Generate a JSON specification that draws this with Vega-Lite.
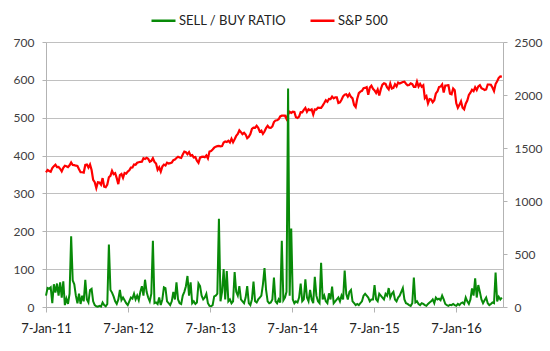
{
"$schema": "https://vega.github.io/schema/vega-lite/v6.json",
"width": 457, "height": 265,
"autosize": {"type": "none"},
"padding": {"left": 46, "top": 42, "right": 47, "bottom": 44},
"background": "white",
"config": {
  "view": {"stroke": null},
  "font": "Lato",
  "axis": {"labelFont": "Lato", "labelFontSize": 12, "labelColor": "#404040", "domainColor": "#b3b3b3", "tickColor": "#b3b3b3", "gridColor": "#c0c0c0", "title": null},
  "legend": {"orient": "none", "legendX": 104, "legendY": -35, "direction": "horizontal", "symbolType": "stroke", "symbolSize": 576, "symbolStrokeWidth": 2.5, "labelFont": "Lato", "labelFontSize": 13, "labelColor": "#222222", "columnPadding": 18, "labelOffset": 2}
},
"data": {"values": [
{"d":"2011-01-07","r":30,"s":1271},{"d":"2011-01-14","r":50,"s":1293},{"d":"2011-01-21","r":48,"s":1283},{"d":"2011-01-28","r":52,"s":1276},
{"d":"2011-02-04","r":10,"s":1310},{"d":"2011-02-11","r":60,"s":1329},{"d":"2011-02-18","r":38,"s":1343},{"d":"2011-02-25","r":62,"s":1320},
{"d":"2011-03-04","r":30,"s":1321},{"d":"2011-03-11","r":65,"s":1304},{"d":"2011-03-18","r":25,"s":1279},{"d":"2011-03-25","r":68,"s":1313},
{"d":"2011-04-01","r":5,"s":1332},{"d":"2011-04-08","r":22,"s":1328},{"d":"2011-04-15","r":8,"s":1319},{"d":"2011-04-22","r":35,"s":1337},{"d":"2011-04-29","r":187,"s":1364},
{"d":"2011-05-06","r":70,"s":1340},{"d":"2011-05-13","r":60,"s":1338},{"d":"2011-05-20","r":30,"s":1333},{"d":"2011-05-27","r":10,"s":1331},
{"d":"2011-06-03","r":35,"s":1300},{"d":"2011-06-10","r":8,"s":1271},{"d":"2011-06-17","r":30,"s":1271},{"d":"2011-06-24","r":15,"s":1268},
{"d":"2011-07-01","r":72,"s":1340},{"d":"2011-07-08","r":20,"s":1344},{"d":"2011-07-15","r":12,"s":1316},{"d":"2011-07-22","r":45,"s":1345},{"d":"2011-07-29","r":48,"s":1292},
{"d":"2011-08-05","r":15,"s":1199},{"d":"2011-08-12","r":5,"s":1178},{"d":"2011-08-19","r":2,"s":1123},{"d":"2011-08-26","r":1,"s":1177},
{"d":"2011-09-02","r":3,"s":1174},{"d":"2011-09-09","r":1,"s":1154},{"d":"2011-09-16","r":12,"s":1216},{"d":"2011-09-23","r":5,"s":1136},{"d":"2011-09-30","r":2,"s":1131},
{"d":"2011-10-07","r":8,"s":1155},{"d":"2011-10-14","r":165,"s":1224},{"d":"2011-10-21","r":45,"s":1238},{"d":"2011-10-28","r":38,"s":1285},
{"d":"2011-11-04","r":28,"s":1253},{"d":"2011-11-11","r":15,"s":1263},{"d":"2011-11-18","r":8,"s":1216},{"d":"2011-11-25","r":20,"s":1159},
{"d":"2011-12-02","r":45,"s":1244},{"d":"2011-12-09","r":18,"s":1255},{"d":"2011-12-16","r":25,"s":1219},{"d":"2011-12-23","r":18,"s":1265},{"d":"2011-12-30","r":10,"s":1258},
{"d":"2012-01-06","r":5,"s":1278},{"d":"2012-01-13","r":15,"s":1289},{"d":"2012-01-20","r":25,"s":1315},{"d":"2012-01-27","r":22,"s":1316},
{"d":"2012-02-03","r":35,"s":1345},{"d":"2012-02-10","r":20,"s":1342},{"d":"2012-02-17","r":30,"s":1361},{"d":"2012-02-24","r":18,"s":1366},
{"d":"2012-03-02","r":40,"s":1370},{"d":"2012-03-09","r":55,"s":1371},{"d":"2012-03-16","r":30,"s":1404},{"d":"2012-03-23","r":72,"s":1397},{"d":"2012-03-30","r":40,"s":1408},
{"d":"2012-04-06","r":25,"s":1398},{"d":"2012-04-13","r":15,"s":1370},{"d":"2012-04-20","r":35,"s":1378},{"d":"2012-04-27","r":175,"s":1403},
{"d":"2012-05-04","r":10,"s":1369},{"d":"2012-05-11","r":12,"s":1353},{"d":"2012-05-18","r":8,"s":1295},{"d":"2012-05-25","r":25,"s":1318},
{"d":"2012-06-01","r":5,"s":1278},{"d":"2012-06-08","r":20,"s":1325},{"d":"2012-06-15","r":52,"s":1343},{"d":"2012-06-22","r":50,"s":1335},{"d":"2012-06-29","r":15,"s":1362},
{"d":"2012-07-06","r":10,"s":1354},{"d":"2012-07-13","r":5,"s":1357},{"d":"2012-07-20","r":15,"s":1363},{"d":"2012-07-27","r":40,"s":1386},
{"d":"2012-08-03","r":20,"s":1391},{"d":"2012-08-10","r":65,"s":1406},{"d":"2012-08-17","r":20,"s":1418},{"d":"2012-08-24","r":10,"s":1411},{"d":"2012-08-31","r":8,"s":1406},
{"d":"2012-09-07","r":30,"s":1438},{"d":"2012-09-14","r":40,"s":1466},{"d":"2012-09-21","r":55,"s":1460},{"d":"2012-09-28","r":82,"s":1441},
{"d":"2012-10-05","r":30,"s":1461},{"d":"2012-10-12","r":65,"s":1428},{"d":"2012-10-19","r":10,"s":1433},{"d":"2012-10-26","r":15,"s":1411},
{"d":"2012-11-02","r":8,"s":1414},{"d":"2012-11-09","r":12,"s":1380},{"d":"2012-11-16","r":62,"s":1360},{"d":"2012-11-23","r":55,"s":1409},{"d":"2012-11-30","r":30,"s":1416},
{"d":"2012-12-07","r":20,"s":1418},{"d":"2012-12-14","r":25,"s":1413},{"d":"2012-12-21","r":35,"s":1430},{"d":"2012-12-28","r":10,"s":1402},
{"d":"2013-01-04","r":3,"s":1466},{"d":"2013-01-11","r":2,"s":1472},{"d":"2013-01-18","r":5,"s":1486},{"d":"2013-01-25","r":28,"s":1503},
{"d":"2013-02-01","r":30,"s":1513},{"d":"2013-02-08","r":35,"s":1518},{"d":"2013-02-15","r":233,"s":1520},{"d":"2013-02-22","r":15,"s":1516},
{"d":"2013-03-01","r":40,"s":1518},{"d":"2013-03-08","r":100,"s":1552},{"d":"2013-03-15","r":20,"s":1561},{"d":"2013-03-22","r":95,"s":1556},{"d":"2013-03-29","r":15,"s":1569},
{"d":"2013-04-05","r":20,"s":1553},{"d":"2013-04-12","r":10,"s":1588},{"d":"2013-04-19","r":15,"s":1555},{"d":"2013-04-26","r":92,"s":1582},
{"d":"2013-05-03","r":40,"s":1614},{"d":"2013-05-10","r":30,"s":1633},{"d":"2013-05-17","r":55,"s":1667},{"d":"2013-05-24","r":20,"s":1650},{"d":"2013-05-31","r":15,"s":1631},
{"d":"2013-06-07","r":10,"s":1643},{"d":"2013-06-14","r":25,"s":1626},{"d":"2013-06-21","r":55,"s":1593},{"d":"2013-06-28","r":10,"s":1606},
{"d":"2013-07-05","r":5,"s":1632},{"d":"2013-07-12","r":20,"s":1680},{"d":"2013-07-19","r":67,"s":1692},{"d":"2013-07-26","r":15,"s":1691},
{"d":"2013-08-02","r":12,"s":1710},{"d":"2013-08-09","r":20,"s":1691},{"d":"2013-08-16","r":25,"s":1655},{"d":"2013-08-23","r":30,"s":1664},{"d":"2013-08-30","r":60,"s":1633},
{"d":"2013-09-06","r":103,"s":1655},{"d":"2013-09-13","r":45,"s":1688},{"d":"2013-09-20","r":15,"s":1710},{"d":"2013-09-27","r":10,"s":1692},
{"d":"2013-10-04","r":12,"s":1690},{"d":"2013-10-11","r":20,"s":1703},{"d":"2013-10-18","r":78,"s":1745},{"d":"2013-10-25","r":15,"s":1759},
{"d":"2013-11-01","r":10,"s":1762},{"d":"2013-11-08","r":20,"s":1771},{"d":"2013-11-15","r":12,"s":1798},{"d":"2013-11-22","r":175,"s":1805},{"d":"2013-11-29","r":18,"s":1806},
{"d":"2013-12-06","r":25,"s":1805},{"d":"2013-12-13","r":40,"s":1775},{"d":"2013-12-20","r":577,"s":1818},{"d":"2013-12-27","r":30,"s":1841},
{"d":"2014-01-03","r":207,"s":1831},{"d":"2014-01-10","r":20,"s":1842},{"d":"2014-01-17","r":10,"s":1839},{"d":"2014-01-24","r":15,"s":1790},{"d":"2014-01-31","r":12,"s":1783},
{"d":"2014-02-07","r":25,"s":1797},{"d":"2014-02-14","r":62,"s":1838},{"d":"2014-02-21","r":15,"s":1836},{"d":"2014-02-28","r":20,"s":1859},
{"d":"2014-03-07","r":73,"s":1878},{"d":"2014-03-14","r":25,"s":1841},{"d":"2014-03-21","r":15,"s":1866},{"d":"2014-03-28","r":45,"s":1857},
{"d":"2014-04-04","r":20,"s":1865},{"d":"2014-04-11","r":10,"s":1816},{"d":"2014-04-18","r":80,"s":1864},{"d":"2014-04-25","r":30,"s":1863},
{"d":"2014-05-02","r":15,"s":1881},{"d":"2014-05-09","r":10,"s":1878},{"d":"2014-05-16","r":117,"s":1878},{"d":"2014-05-23","r":20,"s":1900},{"d":"2014-05-30","r":30,"s":1924},
{"d":"2014-06-06","r":15,"s":1950},{"d":"2014-06-13","r":10,"s":1937},{"d":"2014-06-20","r":36,"s":1963},{"d":"2014-06-27","r":20,"s":1961},
{"d":"2014-07-04","r":54,"s":1985},{"d":"2014-07-11","r":10,"s":1968},{"d":"2014-07-18","r":15,"s":1978},{"d":"2014-07-25","r":20,"s":1978},
{"d":"2014-08-01","r":25,"s":1925},{"d":"2014-08-08","r":15,"s":1931},{"d":"2014-08-15","r":30,"s":1955},{"d":"2014-08-22","r":20,"s":1988},{"d":"2014-08-29","r":96,"s":2003},
{"d":"2014-09-05","r":35,"s":2007},{"d":"2014-09-12","r":20,"s":1985},{"d":"2014-09-19","r":40,"s":2010},{"d":"2014-09-26","r":45,"s":1982},
{"d":"2014-10-03","r":15,"s":1968},{"d":"2014-10-10","r":10,"s":1906},{"d":"2014-10-17","r":5,"s":1886},{"d":"2014-10-24","r":8,"s":1964},{"d":"2014-10-31","r":5,"s":2018},
{"d":"2014-11-07","r":10,"s":2032},{"d":"2014-11-14","r":15,"s":2039},{"d":"2014-11-21","r":30,"s":2064},{"d":"2014-11-28","r":35,"s":2067},
{"d":"2014-12-05","r":30,"s":2075},{"d":"2014-12-12","r":25,"s":2002},{"d":"2014-12-19","r":15,"s":2070},{"d":"2014-12-26","r":20,"s":2088},
{"d":"2015-01-02","r":20,"s":2058},{"d":"2015-01-09","r":58,"s":2044},{"d":"2015-01-16","r":20,"s":2019},{"d":"2015-01-23","r":15,"s":2051},{"d":"2015-01-30","r":35,"s":1995},
{"d":"2015-02-06","r":30,"s":2055},{"d":"2015-02-13","r":25,"s":2097},{"d":"2015-02-20","r":20,"s":2110},{"d":"2015-02-27","r":35,"s":2104},
{"d":"2015-03-06","r":30,"s":2071},{"d":"2015-03-13","r":50,"s":2053},{"d":"2015-03-20","r":25,"s":2108},{"d":"2015-03-27","r":35,"s":2061},
{"d":"2015-04-03","r":40,"s":2067},{"d":"2015-04-10","r":20,"s":2102},{"d":"2015-04-17","r":15,"s":2081},{"d":"2015-04-24","r":25,"s":2117},
{"d":"2015-05-01","r":30,"s":2108},{"d":"2015-05-08","r":40,"s":2116},{"d":"2015-05-15","r":50,"s":2123},{"d":"2015-05-22","r":20,"s":2126},{"d":"2015-05-29","r":10,"s":2107},
{"d":"2015-06-05","r":8,"s":2092},{"d":"2015-06-12","r":5,"s":2094},{"d":"2015-06-19","r":3,"s":2110},{"d":"2015-06-26","r":10,"s":2102},
{"d":"2015-07-03","r":78,"s":2077},{"d":"2015-07-10","r":12,"s":2077},{"d":"2015-07-17","r":15,"s":2127},{"d":"2015-07-24","r":8,"s":2080},{"d":"2015-07-31","r":5,"s":2104},
{"d":"2015-08-07","r":10,"s":2078},{"d":"2015-08-14","r":8,"s":2092},{"d":"2015-08-21","r":5,"s":1971},{"d":"2015-08-28","r":3,"s":1989},
{"d":"2015-09-04","r":8,"s":1921},{"d":"2015-09-11","r":12,"s":1961},{"d":"2015-09-18","r":15,"s":1958},{"d":"2015-09-25","r":20,"s":1931},
{"d":"2015-10-02","r":10,"s":1951},{"d":"2015-10-09","r":25,"s":2015},{"d":"2015-10-16","r":20,"s":2033},{"d":"2015-10-23","r":22,"s":2075},{"d":"2015-10-30","r":18,"s":2079},
{"d":"2015-11-06","r":30,"s":2099},{"d":"2015-11-13","r":20,"s":2023},{"d":"2015-11-20","r":8,"s":2089},{"d":"2015-11-27","r":5,"s":2090},
{"d":"2015-12-04","r":3,"s":2092},{"d":"2015-12-11","r":6,"s":2012},{"d":"2015-12-18","r":5,"s":2006},{"d":"2015-12-25","r":8,"s":2061},
{"d":"2016-01-01","r":5,"s":2044},{"d":"2016-01-08","r":3,"s":1922},{"d":"2016-01-15","r":8,"s":1880},{"d":"2016-01-22","r":5,"s":1907},{"d":"2016-01-29","r":10,"s":1940},
{"d":"2016-02-05","r":12,"s":1880},{"d":"2016-02-12","r":8,"s":1865},{"d":"2016-02-19","r":25,"s":1918},{"d":"2016-02-26","r":15,"s":1948},
{"d":"2016-03-04","r":8,"s":2000},{"d":"2016-03-11","r":20,"s":2022},{"d":"2016-03-18","r":49,"s":2050},{"d":"2016-03-25","r":30,"s":2036},
{"d":"2016-04-01","r":76,"s":2073},{"d":"2016-04-08","r":25,"s":2047},{"d":"2016-04-15","r":58,"s":2081},{"d":"2016-04-22","r":40,"s":2092},{"d":"2016-04-29","r":20,"s":2065},
{"d":"2016-05-06","r":10,"s":2057},{"d":"2016-05-13","r":18,"s":2047},{"d":"2016-05-20","r":25,"s":2052},{"d":"2016-05-27","r":10,"s":2099},
{"d":"2016-06-03","r":5,"s":2099},{"d":"2016-06-10","r":8,"s":2096},{"d":"2016-06-17","r":12,"s":2071},{"d":"2016-06-24","r":10,"s":2037},
{"d":"2016-07-01","r":91,"s":2103},{"d":"2016-07-08","r":15,"s":2130},{"d":"2016-07-15","r":27,"s":2162},{"d":"2016-07-22","r":20,"s":2175},{"d":"2016-07-29","r":25,"s":2174}
]},
"encoding": {
  "x": {"field": "d", "type": "temporal",
    "scale": {"type": "utc", "domain": [{"year": 2011, "month": 1, "date": 7, "utc": true}, {"year": 2016, "month": 8, "date": 3, "utc": true}]},
    "axis": {"values": [{"year": 2011, "month": 1, "date": 7, "utc": true}, {"year": 2012, "month": 1, "date": 7, "utc": true}, {"year": 2013, "month": 1, "date": 7, "utc": true}, {"year": 2014, "month": 1, "date": 7, "utc": true}, {"year": 2015, "month": 1, "date": 7, "utc": true}, {"year": 2016, "month": 1, "date": 7, "utc": true}],
      "labelExpr": "utcFormat(datum.value, '%-d-%b-%y')", "grid": false, "tickSize": 5, "labelPadding": 10, "labelFontSize": 13, "labelColor": "#222222", "labelFlush": false, "labelOverlap": false}
  }
},
"layer": [
  {"mark": {"type": "line", "strokeWidth": 2.2},
   "encoding": {
     "y": {"field": "s", "type": "quantitative", "scale": {"domain": [0, 2500], "nice": false},
       "axis": {"orient": "right", "values": [0, 500, 1000, 1500, 2000, 2500], "format": "d", "grid": false, "tickSize": 4, "labelPadding": 7}},
     "color": {"datum": "S&P 500", "type": "nominal", "scale": {"domain": ["SELL / BUY RATIO", "S&P 500"], "range": ["#088a08", "#ff0000"]}, "legend": {"title": null}}
   }},
  {"mark": {"type": "line", "strokeWidth": 2},
   "encoding": {
     "y": {"field": "r", "type": "quantitative", "scale": {"domain": [0, 700], "nice": false},
       "axis": {"orient": "left", "values": [0, 100, 200, 300, 400, 500, 600, 700], "format": "d", "grid": true, "tickSize": 4, "labelPadding": 8}},
     "color": {"datum": "SELL / BUY RATIO", "type": "nominal", "legend": {"title": null}}
   }}
],
"resolve": {"scale": {"y": "independent"}}
}
